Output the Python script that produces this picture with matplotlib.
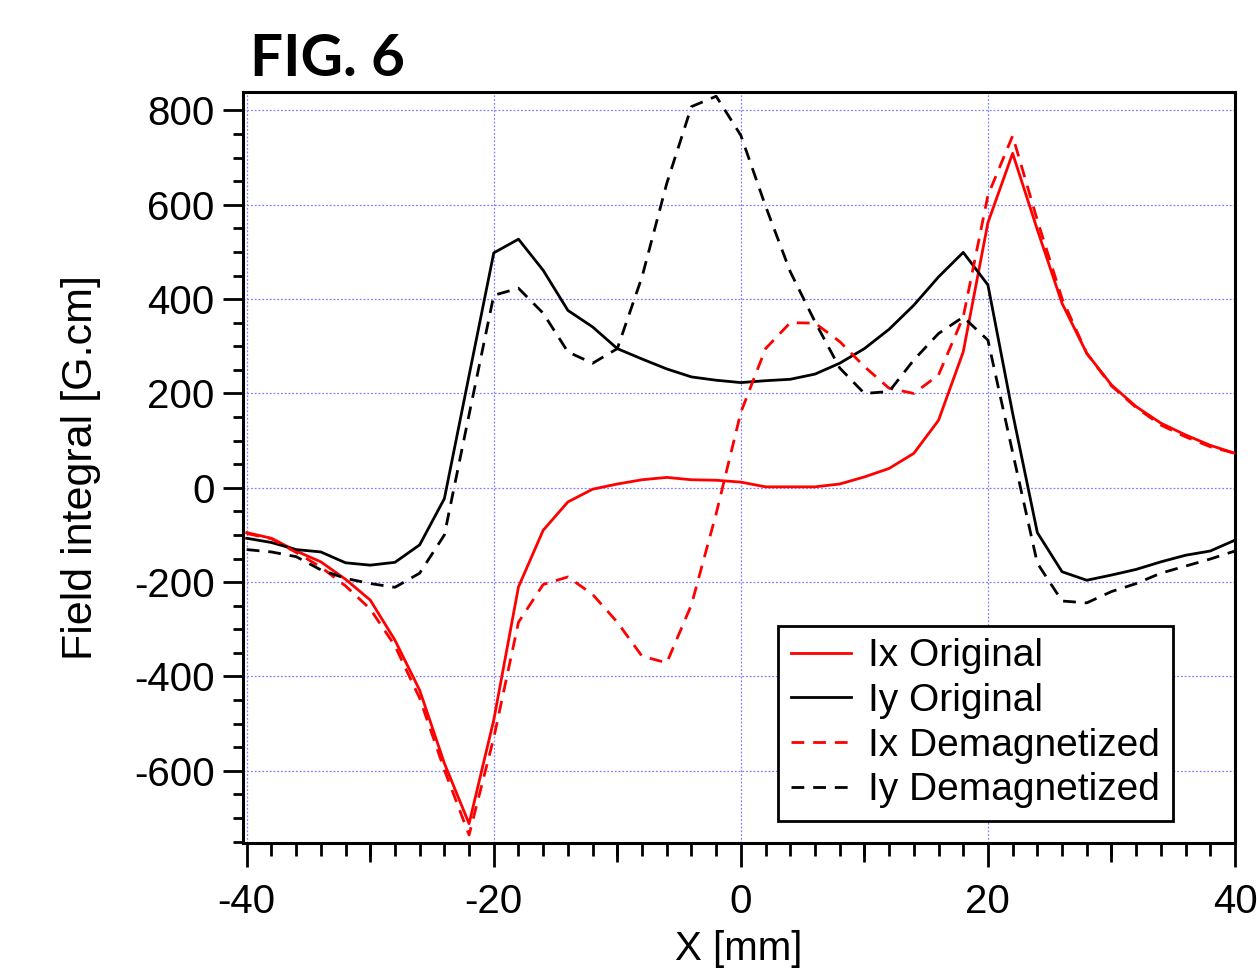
import numpy as np
import matplotlib
matplotlib.use("Agg")
import matplotlib.pyplot as plt
from matplotlib.ticker import MultipleLocator, NullLocator, FixedLocator

x = list(range(-40, 41, 2))

ix_original = [-95, -107, -134, -157, -194, -238, -323, -429, -584, -712,
               -492, -210, -90, -30, -3, 8, 17, 22, 17, 16,
               12, 2, 2, 2, 8, 23, 41, 73, 143, 288,
               562, 709, 547, 391, 285, 218, 172, 137, 112, 90, 73]
iy_original = [-107, -116, -131, -136, -159, -164, -158, -121, -23, 238,
               498, 527, 461, 376, 341, 295, 273, 252, 235, 228,
               223, 227, 230, 241, 264, 295, 336, 387, 447, 499,
               430, 158, -95, -178, -196, -185, -173, -157, -143, -134, -111]
ix_demag = [-97, -108, -137, -168, -208, -257, -335, -446, -598, -736,
            -530, -285, -205, -189, -226, -285, -357, -371, -248, -55,
            160, 295, 350, 349, 310, 257, 211, 200, 239, 362,
            620, 746, 567, 401, 285, 216, 170, 133, 108, 87, 73]
iy_demag = [-131, -136, -146, -174, -192, -203, -211, -181, -100, 155,
            408, 423, 370, 288, 264, 295, 447, 645, 808, 830,
            747, 597, 458, 352, 254, 200, 204, 271, 327, 362,
            313, 75, -160, -240, -244, -220, -203, -181, -166, -151, -134]

labels = ["Ix Original", "Iy Original", "Ix Demagnetized", "Iy Demagnetized"]
xticks = [-40, -20, 0, 20, 40]
yticks = [-600, -400, -200, 0, 200, 400, 600, 800]

plt.rcParams['font.family'] = ['Liberation Sans', 'DejaVu Sans']

DPI = 100
fig = plt.figure(figsize=(12.57, 9.68), dpi=DPI)
ax = fig.add_axes([243/1257, 1-843/968, (1235-243)/1257, (843-92)/968])

lw = 2.0
dash = (4.6, 3.2)
ax.plot(x, ix_original, color='#ff0000', lw=lw, label=labels[0], zorder=3)
ax.plot(x, iy_original, color='black', lw=lw, label=labels[1], zorder=3)
ax.plot(x, ix_demag, color='#ff0000', lw=lw, dashes=dash, label=labels[2], zorder=3)
ax.plot(x, iy_demag, color='black', lw=lw, dashes=dash, label=labels[3], zorder=3)

ax.set_xlim(-40.3, 40.0)
ax.set_ylim(-753, 839)

ax.xaxis.set_major_locator(FixedLocator(xticks))
ax.xaxis.set_minor_locator(MultipleLocator(2))
ax.yaxis.set_major_locator(FixedLocator(yticks))
ax.yaxis.set_minor_locator(MultipleLocator(50))
ax.set_xticklabels([str(v) for v in xticks])
ax.set_yticklabels([str(v) for v in yticks])

ax.grid(True, which='major', color='#8080ff', lw=0.9, linestyle=(0, (1.5, 1.5)))

for s in ax.spines.values():
    s.set_linewidth(2.2)

ax.tick_params(axis='x', which='major', direction='out', length=17, width=2,
               labelsize=29, pad=12, top=False)
ax.tick_params(axis='x', which='minor', direction='out', length=9.4, width=2, top=False)
ax.tick_params(axis='y', which='major', direction='out', length=14.4, width=2,
               labelsize=29, pad=6, right=False)
ax.tick_params(axis='y', which='minor', direction='out', length=7.2, width=2, right=False)

sec = ax.secondary_xaxis('bottom')
sec.xaxis.set_major_locator(FixedLocator([-30, -10, 10, 30]))
sec.xaxis.set_minor_locator(NullLocator())
sec.tick_params(axis='x', which='major', direction='out', length=13.7, width=2,
                labelbottom=False)
sec.spines['bottom'].set_visible(False)

ax.set_xlabel("X [mm]", fontsize=29, labelpad=6)
ax.set_ylabel("Field integral [G.cm]", fontsize=31, labelpad=24)

leg = ax.legend(loc='lower right', bbox_to_anchor=(0.9375, 0.0293), borderaxespad=0,
                fontsize=28, handlelength=1.55, handletextpad=0.45, labelspacing=0.22,
                borderpad=0.33, frameon=True, fancybox=False, framealpha=1,
                edgecolor='black')
leg.get_frame().set_linewidth(2.0)

fig.text(250/1257, 1-33/968, "FIG. 6", fontsize=42, fontweight='bold',
         family=['Lato', 'DejaVu Sans'], ha='left', va='top')

fig.savefig("out.png", dpi=DPI)
